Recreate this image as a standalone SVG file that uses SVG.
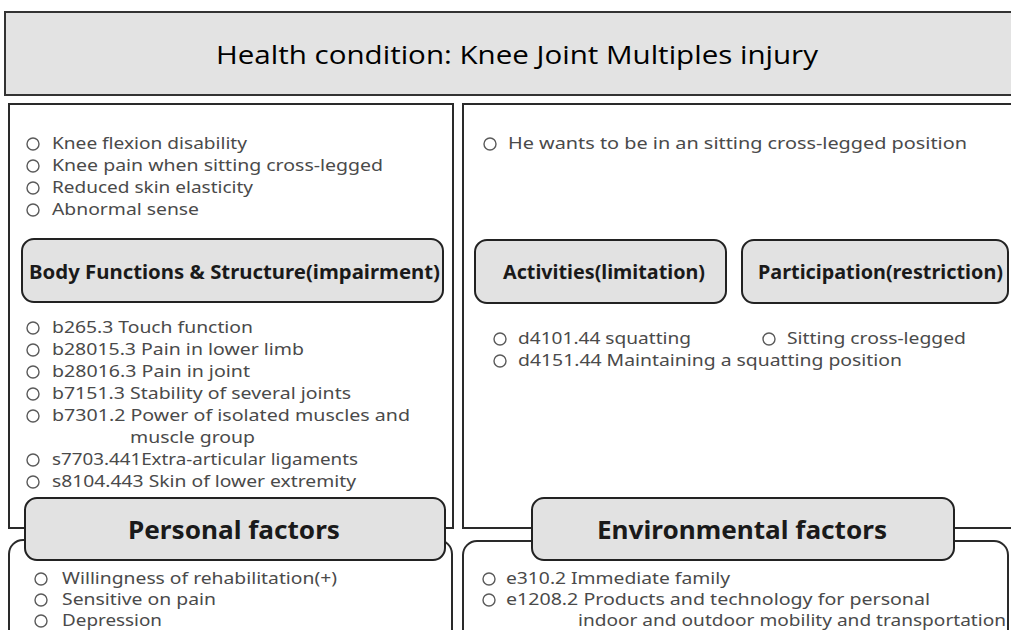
<svg xmlns="http://www.w3.org/2000/svg" width="1011" height="630" viewBox="0 0 1011 630">
<style>
.panel{fill:#fff;stroke:#2a2a2a;stroke-width:2}
.hbox{fill:#e2e2e2;stroke:#222;stroke-width:2}
.item{font-family:"Noto Sans","Open Sans",sans-serif;font-size:16.5px;fill:#4a4a4a}
.sm{font-size:15.5px}
.hd{font-family:"Noto Sans","Open Sans",sans-serif;font-weight:bold;fill:#1a1a1a}
.bul{fill:none;stroke:#5a5a5a;stroke-width:1.4}
</style>
<rect width="1011" height="630" fill="#fff"/>
<g id="health-condition">
<rect x="5" y="12" width="1020" height="83" fill="#e3e3e3" stroke="#333" stroke-width="2"/>
<text x="517" y="64" text-anchor="middle" font-family="'Open Sans','Noto Sans',sans-serif" font-size="26" fill="#000" textLength="602" lengthAdjust="spacingAndGlyphs">Health condition: Knee Joint Multiples injury</text>
</g>
<g id="body-functions">
<rect class="panel" x="9" y="104" width="444" height="424"/>
<g class="bul">
<circle cx="33" cy="144" r="6"/><circle cx="33" cy="166" r="6"/><circle cx="33" cy="188" r="6"/><circle cx="33" cy="210" r="6"/>
</g>
<text class="item" x="52" y="149" textLength="195" lengthAdjust="spacingAndGlyphs">Knee flexion disability</text>
<text class="item" x="52" y="171" textLength="331" lengthAdjust="spacingAndGlyphs">Knee pain when sitting cross-legged</text>
<text class="item" x="52" y="193" textLength="201" lengthAdjust="spacingAndGlyphs">Reduced skin elasticity</text>
<text class="item" x="52" y="215" textLength="147" lengthAdjust="spacingAndGlyphs">Abnormal sense</text>
<rect class="hbox" x="22" y="239" width="421" height="63" rx="12"/>
<text class="hd" x="29" y="279" font-size="19" textLength="411" lengthAdjust="spacingAndGlyphs">Body Functions &amp; Structure(impairment)</text>
<g class="bul">
<circle cx="33" cy="328" r="6"/><circle cx="33" cy="350" r="6"/><circle cx="33" cy="372" r="6"/><circle cx="33" cy="394" r="6"/><circle cx="33" cy="416" r="6"/><circle cx="33" cy="460" r="6"/><circle cx="33" cy="482" r="6"/>
</g>
<text class="item" x="52" y="333" textLength="201" lengthAdjust="spacingAndGlyphs">b265.3  Touch function</text>
<text class="item" x="52" y="355" textLength="252" lengthAdjust="spacingAndGlyphs">b28015.3  Pain in lower limb</text>
<text class="item" x="52" y="377" textLength="198" lengthAdjust="spacingAndGlyphs">b28016.3  Pain in joint</text>
<text class="item" x="52" y="399" textLength="299" lengthAdjust="spacingAndGlyphs">b7151.3  Stability  of several joints</text>
<text class="item" x="52" y="421" textLength="358" lengthAdjust="spacingAndGlyphs">b7301.2  Power of isolated muscles and</text>
<text class="item" x="130" y="443" textLength="125" lengthAdjust="spacingAndGlyphs">muscle group</text>
<text class="item" x="52" y="465" textLength="306" lengthAdjust="spacingAndGlyphs">s7703.441Extra-articular  ligaments</text>
<text class="item" x="52" y="487" textLength="304" lengthAdjust="spacingAndGlyphs">s8104.443  Skin of lower extremity</text>
</g>
<g id="activities-participation">
<rect class="panel" x="463" y="104" width="580" height="424"/>
<circle class="bul" cx="490" cy="144" r="6"/>
<text class="item" x="508" y="149" textLength="459" lengthAdjust="spacingAndGlyphs">He wants to be in an sitting cross-legged position</text>
</g>
<g id="activities">
<rect class="hbox" x="475" y="240" width="251" height="63" rx="12"/>
<text class="hd" x="503" y="279" font-size="19" textLength="202" lengthAdjust="spacingAndGlyphs">Activities(limitation)</text>
<circle class="bul" cx="500" cy="339" r="6"/><circle class="bul" cx="500" cy="361" r="6"/>
<text class="item" x="518" y="344" textLength="173" lengthAdjust="spacingAndGlyphs">d4101.44  squatting</text>
<text class="item" x="518" y="366" textLength="384" lengthAdjust="spacingAndGlyphs">d4151.44  Maintaining a squatting position</text>
</g>
<g id="participation">
<rect class="hbox" x="742" y="240" width="266" height="63" rx="12"/>
<text class="hd" x="758" y="279" font-size="19" textLength="245" lengthAdjust="spacingAndGlyphs">Participation(restriction)</text>
<circle class="bul" cx="769" cy="339" r="6"/>
<text class="item" x="787" y="344" textLength="179" lengthAdjust="spacingAndGlyphs">Sitting cross-legged</text>
</g>
<g id="connectors"></g>
<g id="personal-factors">
<rect class="panel" x="9" y="540" width="443" height="120" rx="14"/>
<rect class="hbox" x="25" y="498" width="420" height="62" rx="12"/>
<text class="hd" x="234" y="539" font-size="25" text-anchor="middle" textLength="212" lengthAdjust="spacingAndGlyphs">Personal factors</text>
<g class="bul"><circle cx="41" cy="579" r="6"/><circle cx="41" cy="600" r="6"/><circle cx="41" cy="621" r="6"/></g>
<text class="item sm" x="62" y="584" textLength="275" lengthAdjust="spacingAndGlyphs">Willingness of rehabilitation(+)</text>
<text class="item sm" x="62" y="605" textLength="154" lengthAdjust="spacingAndGlyphs">Sensitive on pain</text>
<text class="item sm" x="62" y="626" textLength="100" lengthAdjust="spacingAndGlyphs">Depression</text>
</g>
<g id="environmental-factors">
<rect class="panel" x="463" y="541" width="545" height="120" rx="14"/>
<rect class="hbox" x="532" y="498" width="422" height="62" rx="12"/>
<text class="hd" x="742" y="539" font-size="25" text-anchor="middle" textLength="290" lengthAdjust="spacingAndGlyphs">Environmental factors</text>
<g class="bul"><circle cx="489" cy="579" r="6"/><circle cx="489" cy="600" r="6"/></g>
<text class="item sm" x="506" y="584" textLength="224" lengthAdjust="spacingAndGlyphs">e310.2  Immediate  family</text>
<text class="item sm" x="506" y="605" textLength="424" lengthAdjust="spacingAndGlyphs">e1208.2  Products  and  technology  for  personal</text>
<text class="item sm" x="578" y="626" textLength="428" lengthAdjust="spacingAndGlyphs">indoor and outdoor mobility  and transportation</text>
</g>
</svg>
